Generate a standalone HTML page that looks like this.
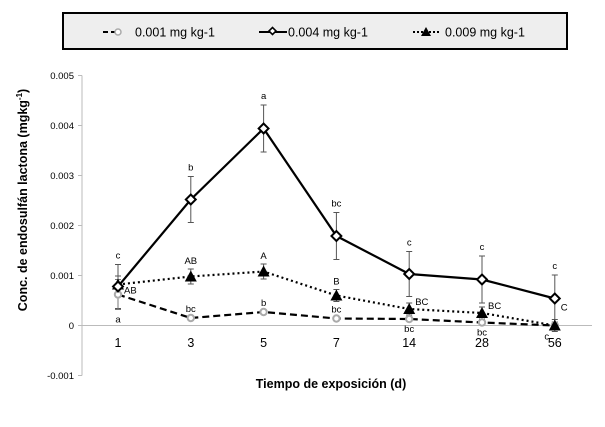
<!DOCTYPE html>
<html><head><meta charset="utf-8"><style>
html,body{margin:0;padding:0;background:#fff;}
svg{display:block;font-family:"Liberation Sans",Arial,sans-serif;}
</style></head><body>
<svg id="chart" width="605" height="427" viewBox="0 0 605 427">
  <g>
    <rect x="63" y="13" width="504" height="36" fill="#eeeeee" stroke="#000" stroke-width="2"/>
    <g>
      <line x1="103" y1="32" x2="120" y2="32" stroke="#000" stroke-width="2" stroke-dasharray="5,3"/>
      <circle cx="118" cy="32" r="3" fill="#fff" stroke="#aaa" stroke-width="1.5"/>
      <text x="135" y="36.5" font-size="12.5">0.001 mg kg-1</text>
    </g>
    <g>
      <line x1="259" y1="32" x2="287" y2="32" stroke="#000" stroke-width="2"/>
      <rect x="270" y="28.5" width="5" height="5" transform="rotate(45 272.5 31)" fill="#fff" stroke="#000" stroke-width="1.6"/>
      <text x="288" y="36.5" font-size="12.5">0.004 mg kg-1</text>
    </g>
    <g>
      <line x1="413" y1="32" x2="440" y2="32" stroke="#000" stroke-width="2" stroke-dasharray="2,2"/>
      <polygon points="426,27 431,36 421,36" fill="#000"/>
      <text x="445" y="36.5" font-size="12.5">0.009 mg kg-1</text>
    </g>
  </g>
  <text transform="translate(27,200) rotate(-90)" text-anchor="middle" font-size="12.5" font-weight="bold">Conc. de endosulfán lactona (mgkg<tspan font-size="8" dy="-5">-1</tspan><tspan dy="5">)</tspan></text>
  <text x="331" y="388" text-anchor="middle" font-size="12.5" font-weight="bold">Tiempo de exposición (d)</text>
  <g id="axes"></g>
  <g id="series"></g>
</svg>
<script>
const categories = ["1","3","5","7","14","28","56"];
const yTicks = [0.005,0.004,0.003,0.002,0.001,0,-0.001];
const yTickLabels = ["0.005","0.004","0.003","0.002","0.001","0","-0.001"];
const low = [0.00062,0.00015,0.00027,0.00014,0.00013,0.00006,0.0];
const lowErr = [0.0003,0.00002,0.00002,0.00002,0.00002,0.00002,0.00002];
const lowLabels = ["a","bc","b","bc","bc","bc","c"];
const mid = [0.00078,0.00252,0.00394,0.00179,0.00103,0.00092,0.00054];
const midErr = [0.00044,0.00046,0.00047,0.00047,0.00045,0.00047,0.00047];
const midLabels = ["c","b","a","bc","c","c","c"];
const high = [0.00082,0.00098,0.00108,0.0006,0.00033,0.00025,0.0];
const highErr = [0.00017,0.00015,0.00015,0.00012,0.00012,0.00012,0.00012];
const highLabels = ["AB","AB","A","B","BC","BC","C"];

const NS="http://www.w3.org/2000/svg";
function y(v){return 325.5 - v*50000;}
function x(i){return 118 + i*72.8;}
function mk(tag,attrs,parent,txt){const e=document.createElementNS(NS,tag);for(const k in attrs)e.setAttribute(k,attrs[k]);if(txt!==undefined)e.textContent=txt;parent.appendChild(e);return e;}
const axes=document.getElementById('axes'), series=document.getElementById('series');

let ya=mk('line',{x1:82,y1:y(0.005),x2:82,y2:y(-0.001),stroke:'#bbb','stroke-width':1},axes);


yTicks.forEach((t,i)=>{
  let tl=mk('line',{x1:78,y1:y(t),x2:82,y2:y(t),stroke:'#bbb'},axes);
  
  
  let tx=mk('text',{x:74,y:y(t)+3.5,'text-anchor':'end','font-size':'9.5'},axes,yTickLabels[i]);
  
  
});
let xa=mk('line',{x1:82,y1:y(0),x2:592,y2:y(0),stroke:'#bbb','stroke-width':1},axes);


categories.forEach((c,i)=>{
  let tx=mk('text',{x:x(i),y:347,'text-anchor':'middle','font-size':'12.5'},axes,c);
  
  
});

function errBars(vals,errs,name,color){
  vals.forEach((v,i)=>{
    let g=mk('g',{stroke:color,'stroke-width':1},series);
    
    
    const t=y(v+errs[i]),b=y(v-errs[i]);
    mk('line',{x1:x(i),y1:t,x2:x(i),y2:b},g);
    mk('line',{x1:x(i)-3,y1:t,x2:x(i)+3,y2:t},g);
    mk('line',{x1:x(i)-3,y1:b,x2:x(i)+3,y2:b},g);
  });
}
function line(vals,name,dash){
  let p=mk('polyline',{points:vals.map((v,i)=>x(i)+','+y(v)).join(' '),fill:'none',stroke:'#000','stroke-width':2.2,'stroke-dasharray':dash},series);
  
  
}
errBars(mid,midErr,'mid','#555');
errBars(high,highErr,'high','#555');
errBars(low,lowErr,'low','#777');
line(low,'low','7,4');
line(high,'high','2,3');
line(mid,'mid','none');

low.forEach((v,i)=>{
  let c=mk('circle',{cx:x(i),cy:y(v),r:3.2,fill:'#fff',stroke:'#aaa','stroke-width':2},series);
  
  
});
high.forEach((v,i)=>{
  const cx=x(i),cy=y(v);
  let p=mk('polygon',{points:`${cx},${cy-6} ${cx+6},${cy+5} ${cx-6},${cy+5}`,fill:'#000'},series);
  
  
});
mid.forEach((v,i)=>{
  const cx=x(i),cy=y(v);
  let r=mk('rect',{x:cx-3.5,y:cy-3.5,width:7,height:7,transform:`rotate(45 ${cx} ${cy})`,fill:'#fff',stroke:'#000','stroke-width':2},series);
  
  
});

// significance letters
midLabels.forEach((l,i)=>{
  let t=mk('text',{x:x(i),y:y(mid[i]+midErr[i])-6,'text-anchor':'middle','font-size':'9.5'},series,l);
  
  
});
highLabels.forEach((l,i)=>{
  let px,py,anchor='middle';
  if(i===0||i>=4){px=x(i)+6;py=y(high[i])-(i===6?-(-10):0)+ (i===0?-9+14:-4);anchor='start';}
  else {px=x(i);py=y(high[i]+highErr[i])-5;}
  if(i===6){py=y(high[i])-15;}
  if(i===0){py=y(high[i])+9;}
  let t=mk('text',{x:px,y:py,'text-anchor':anchor,'font-size':'9.5'},series,l);
  
  
});
lowLabels.forEach((l,i)=>{
  let px=x(i),py,anchor='middle';
  if(i===0){py=y(low[i]-lowErr[i])+13;}
  else if(i===4||i===5){py=y(low[i])+13;}
  else if(i===6){px=x(i)-8;py=y(low[i])+14;}
  else {py=y(low[i])-6;}
  let t=mk('text',{x:px,y:py,'text-anchor':anchor,'font-size':'9.5'},series,l);
  
  
});
</script>
</body></html>
